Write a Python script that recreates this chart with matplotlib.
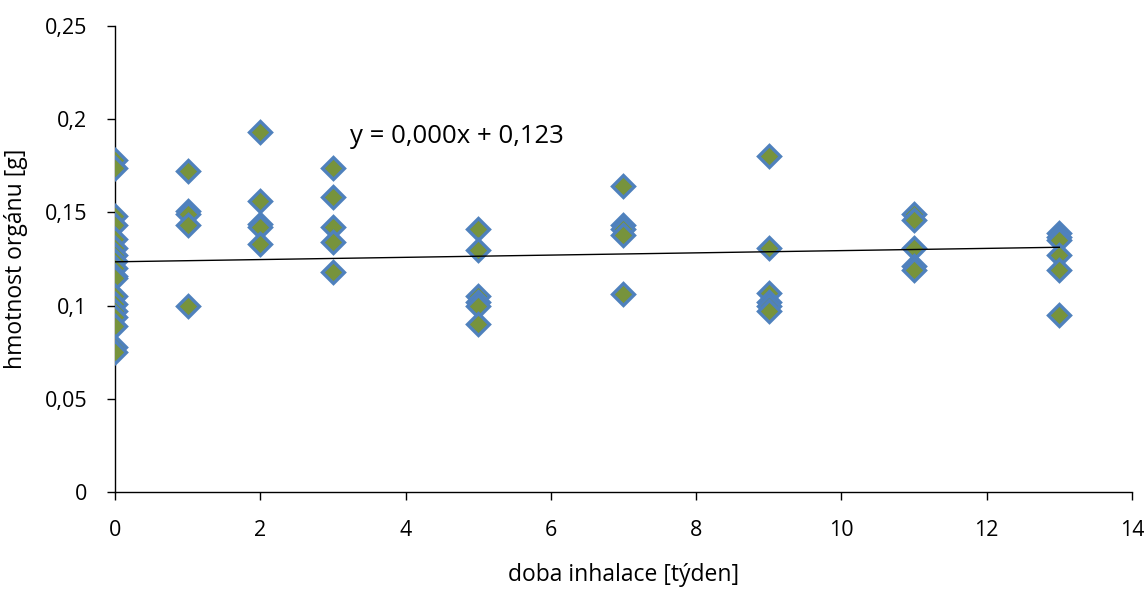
import matplotlib
matplotlib.use("Agg")
import matplotlib.pyplot as plt
from matplotlib.ticker import FuncFormatter

weeks = [0]*18 + [1]*5 + [2]*5 + [3]*5 + [5]*6 + [7]*5 + [9]*6 + [11]*5 + [13]*6
masses = [
    # week 0
    0.178, 0.174, 0.148, 0.143, 0.136, 0.131, 0.127, 0.124, 0.120, 0.116, 0.115,
    0.105, 0.101, 0.097, 0.094, 0.089, 0.078, 0.075,
    # week 1
    0.172, 0.151, 0.149, 0.143, 0.100,
    # week 2
    0.193, 0.156, 0.144, 0.142, 0.133,
    # week 3
    0.174, 0.158, 0.142, 0.134, 0.118,
    # week 5
    0.141, 0.130, 0.105, 0.102, 0.100, 0.090,
    # week 7
    0.164, 0.143, 0.141, 0.138, 0.106,
    # week 9
    0.180, 0.131, 0.107, 0.102, 0.100, 0.097,
    # week 11
    0.149, 0.146, 0.131, 0.121, 0.119,
    # week 13
    0.139, 0.137, 0.135, 0.127, 0.119, 0.095,
]
trend_slope = 0.0006
trend_intercept = 0.1235
trend_x = [0, 13]
trend_label = "y = 0,000x + 0,123"
xticks = [0, 2, 4, 6, 8, 10, 12, 14]
yticks = [0, 0.05, 0.1, 0.15, 0.2, 0.25]

plt.rcParams['font.family'] = ['Open Sans', 'DejaVu Sans']

fig = plt.figure(figsize=(11.44, 5.9), dpi=100)
ax = fig.add_axes([0.1005, 0.166, 0.889, 0.790])

ax.plot(weeks, masses, linestyle='none', marker='D', ms=11.5, mfc='#77933C',
        mec='#4F81BD', mew=2.4, zorder=3)
ax.plot(trend_x, [trend_slope*x + trend_intercept for x in trend_x],
        color='black', lw=1.0, zorder=4)
ax.text(3.24, 0.1905, trend_label, fontsize=18.5, va='center', ha='left')

ax.set_xlim(0, 14)
ax.set_ylim(0, 0.25)
ax.set_xticks(xticks)
ax.set_yticks(yticks)

def fmt(v, pos):
    s = ('%.2f' % v).rstrip('0').rstrip('.') if v != 0 else '0'
    return s.replace('.', ',')

ax.yaxis.set_major_formatter(FuncFormatter(fmt))
ax.xaxis.set_major_formatter(FuncFormatter(lambda v, p: '%d' % v))
ax.tick_params(axis='both', direction='out', length=6, width=1, labelsize=15.5, color='black')
ax.tick_params(axis='x', pad=14)
ax.tick_params(axis='y', pad=14)
for s in ['top', 'right']:
    ax.spines[s].set_visible(False)
for s in ['left', 'bottom']:
    ax.spines[s].set_color('black')
    ax.spines[s].set_linewidth(1.0)

ax.set_xlabel('doba inhalace [týden]', fontsize=16.5, labelpad=16)
ax.set_ylabel('hmotnost orgánu [g]', fontsize=16.5, labelpad=12)

fig.savefig('out.png', dpi=100)
